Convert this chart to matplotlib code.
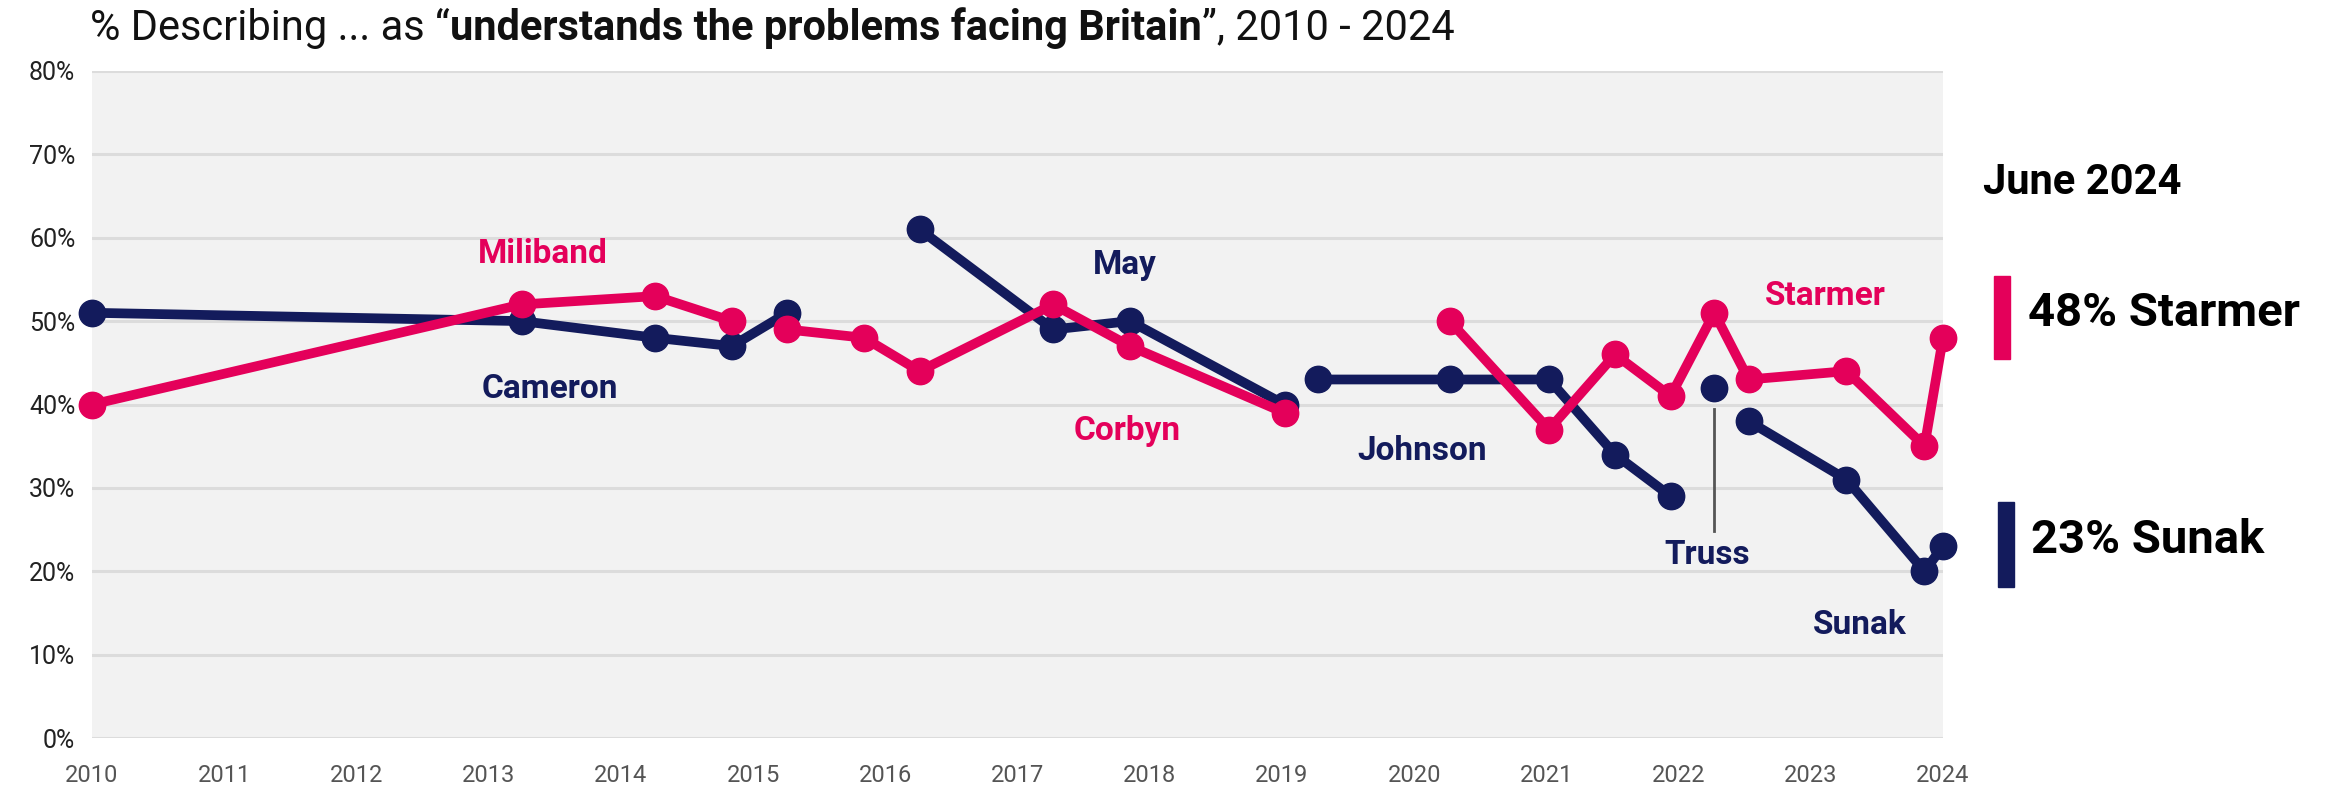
import matplotlib
matplotlib.use("Agg")
from matplotlib import pyplot as plt
from matplotlib.patches import Rectangle

plt.rcParams['font.family'] = ['Roboto', 'DejaVu Sans']

PINK = '#e4005a'
NAVY = '#131b5c'

# Conservative leaders (navy)
cameron_x = [2010.0, 2013.25, 2014.26, 2014.84, 2015.26]
cameron_y = [51, 50, 48, 47, 51]
may_x = [2016.26, 2017.27, 2017.85, 2019.02]
may_y = [61, 49, 50, 40]
johnson_x = [2019.27, 2020.27, 2021.02, 2021.52, 2021.94]
johnson_y = [43, 43, 43, 34, 29]
truss_x = [2022.27]
truss_y = [42]
sunak_x = [2022.53, 2023.27, 2023.86, 2024.0]
sunak_y = [38, 31, 20, 23]

# Labour leaders (pink)
miliband_x = [2010.0, 2013.25, 2014.26, 2014.84]
miliband_y = [40, 52, 53, 50]
corbyn_x = [2015.26, 2015.84, 2016.26, 2017.27, 2017.85, 2019.02]
corbyn_y = [49, 48, 44, 52, 47, 39]
starmer_x = [2020.27, 2021.02, 2021.52, 2021.94, 2022.27, 2022.53, 2023.27, 2023.86, 2024.0]
starmer_y = [50, 37, 46, 41, 51, 43, 44, 35, 48]

years = list(range(2010, 2025))
yticks = [0, 10, 20, 30, 40, 50, 60, 70, 80]

W, H = 2333, 788
fig = plt.figure(figsize=(W / 100, H / 100), dpi=100)
ax = fig.add_axes([92 / W, 1 - 738 / H, (1943 - 92) / W, (738 - 71) / H])
ax.set_facecolor('#f2f2f2')
ax.set_xlim(2010, 2024)
ax.set_ylim(0, 80)
for s in ax.spines.values():
    s.set_visible(False)
ax.set_yticks(yticks)
ax.set_yticklabels([f'{v}%' for v in yticks], fontsize=18, color='#222222')
ax.set_xticks(years)
ax.set_xticklabels([str(y) for y in years], fontsize=17, color='#555555')
ax.tick_params(axis='both', length=0)
ax.tick_params(axis='y', pad=12)
ax.tick_params(axis='x', pad=19)
ax.yaxis.grid(True, color='#dcdcdc', linewidth=2.2)
ax.set_axisbelow(True)

line_kw = dict(linewidth=7, marker='o', markersize=19, clip_on=False, solid_capstyle='round')
for xs, ys in [(cameron_x, cameron_y), (may_x, may_y), (johnson_x, johnson_y),
               (truss_x, truss_y), (sunak_x, sunak_y)]:
    ax.plot(xs, ys, color=NAVY, zorder=3, **line_kw)
for xs, ys in [(miliband_x, miliband_y), (corbyn_x, corbyn_y), (starmer_x, starmer_y)]:
    ax.plot(xs, ys, color=PINK, zorder=4, **line_kw)

# Truss leader line
ax.plot([truss_x[0], truss_x[0]], [39.5, 24.8], color='#555555', linewidth=2, zorder=2)

lab_kw = dict(fontsize=24, fontweight='bold', ha='center', va='center')
ax.text(2013.41, 58.0, 'Miliband', color=PINK, **lab_kw)
ax.text(2013.46, 41.9, 'Cameron', color=NAVY, **lab_kw)
ax.text(2017.81, 56.7, 'May', color=NAVY, **lab_kw)
ax.text(2017.83, 36.8, 'Corbyn', color=PINK, **lab_kw)
ax.text(2020.06, 34.4, 'Johnson', color=NAVY, **lab_kw)
ax.text(2023.11, 53.0, 'Starmer', color=PINK, **lab_kw)
ax.text(2022.22, 21.9, 'Truss', color=NAVY, **lab_kw)
ax.text(2023.37, 13.6, 'Sunak', color=NAVY, **lab_kw)

# Title with bold middle part
t1 = fig.text(90 / W, 1 - 28 / H, '% Describing ... as \u201c', fontsize=30,
              va='center', ha='left', color='#111111')
t2 = ax.annotate('understands the problems facing Britain', xy=(1, 0), xycoords=t1,
                 fontsize=30, fontweight='bold', va='bottom', ha='left', color='#111111')
ax.annotate('\u201d, 2010 - 2024', xy=(1, 0), xycoords=t2,
            fontsize=30, va='bottom', ha='left', color='#111111')

# Right-hand summary
fig.text(1983 / W, 1 - 182 / H, 'June 2024', fontsize=30, fontweight='bold',
         va='center', ha='left', color='#000000')
fig.patches.append(Rectangle((1994 / W, 1 - 359 / H), 16 / W, 83 / H,
                             transform=fig.transFigure, color=PINK, figure=fig))
fig.text(2028 / W, 1 - 313 / H, '48% Starmer', fontsize=34, fontweight='bold',
         va='center', ha='left', color='#000000')
fig.patches.append(Rectangle((1998 / W, 1 - 587 / H), 16 / W, 85 / H,
                             transform=fig.transFigure, color=NAVY, figure=fig))
fig.text(2031 / W, 1 - 540 / H, '23% Sunak', fontsize=34, fontweight='bold',
         va='center', ha='left', color='#000000')

fig.savefig('out.png', dpi=100)
